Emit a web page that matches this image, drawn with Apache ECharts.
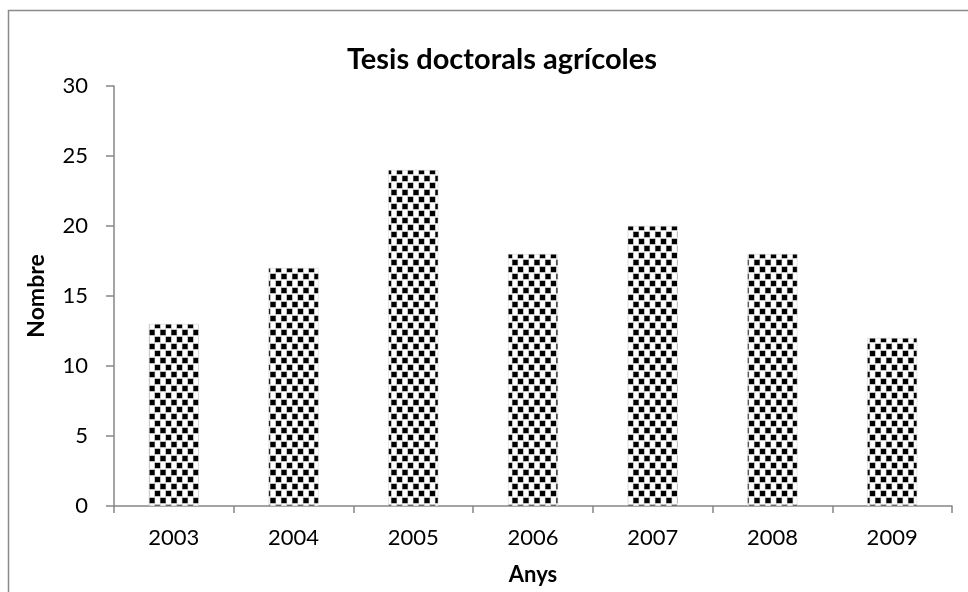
<!DOCTYPE html>
<html>
<head>
<meta charset="utf-8">
<script src="https://cdn.jsdelivr.net/npm/echarts@6/dist/echarts.min.js"></script>
<style>
  html, body { margin: 0; padding: 0; background: #fff; }
  #chart { width: 968px; height: 592px; }
</style>
</head>
<body>
<div id="chart"></div>
<script>
  var years = ['2003', '2004', '2005', '2006', '2007', '2008', '2009']
  var tesis = [13, 17, 24, 18, 20, 18, 12]

  // patró de quadrets negres al tresbolillo
  function makePattern() {
    var c = document.createElement('canvas')
    c.width = 11
    c.height = 14
    var ctx = c.getContext('2d')
    ctx.fillStyle = '#fff'
    ctx.fillRect(0, 0, 11, 14)
    var pts = [[1, 1], [6.5, 8], [-4.5, 8]]
    pts.forEach(function (p) {
      ctx.fillStyle = '#999'
      ctx.fillRect(p[0] - 0.6, p[1] - 0.6, 6.2, 6.2)
      ctx.fillStyle = '#000'
      ctx.fillRect(p[0], p[1], 5, 5)
    })
    return c
  }

  var myChart = echarts.init(document.getElementById('chart'))
  var font = 'Lato, "Open Sans", sans-serif'
  var option = {
    animation: false,
    title: {
      text: 'Tesis doctorals agrícoles',
      left: 497,
      textAlign: 'center',
      top: 40,
      textStyle: { fontFamily: font, fontSize: 29, fontWeight: 'bold', color: '#000' }
    },
    graphic: [{
      type: 'rect',
      shape: { x: 8.5, y: 10.5, width: 980, height: 600 },
      style: { fill: 'none', stroke: '#8a8a8a', lineWidth: 1.5 },
      silent: true
    }],
    grid: { left: 114, right: 16, top: 86, bottom: 86 },
    xAxis: {
      type: 'category',
      data: years,
      name: 'Anys',
      nameLocation: 'middle',
      nameGap: 58,
      nameTextStyle: { fontFamily: font, fontSize: 22, fontWeight: 'bold', color: '#000' },
      axisLine: { lineStyle: { color: '#868686', width: 1.5 } },
      axisTick: { show: true, length: 7, lineStyle: { color: '#868686', width: 1.5 } },
      axisLabel: { margin: 21, fontFamily: font, fontSize: 22, color: '#000' }
    },
    yAxis: {
      type: 'value',
      min: 0,
      max: 30,
      interval: 5,
      name: 'Nombre',
      nameLocation: 'middle',
      nameGap: 66,
      nameTextStyle: { fontFamily: font, fontSize: 23, fontWeight: 'bold', color: '#000' },
      axisLine: { show: true, lineStyle: { color: '#868686', width: 1.5 } },
      axisTick: { show: true, length: 8, lineStyle: { color: '#868686', width: 1.5 } },
      axisLabel: { margin: 26, fontFamily: font, fontSize: 22, color: '#000' },
      splitLine: { show: false }
    },
    series: [{
      name: 'Tesis',
      type: 'bar',
      data: tesis,
      barWidth: 50,
      itemStyle: {
        color: { image: makePattern(), repeat: 'repeat' },
        borderColor: '#cfcfcf',
        borderWidth: 0.5
      }
    }]
  }
  myChart.setOption(option)
</script>
</body>
</html>
